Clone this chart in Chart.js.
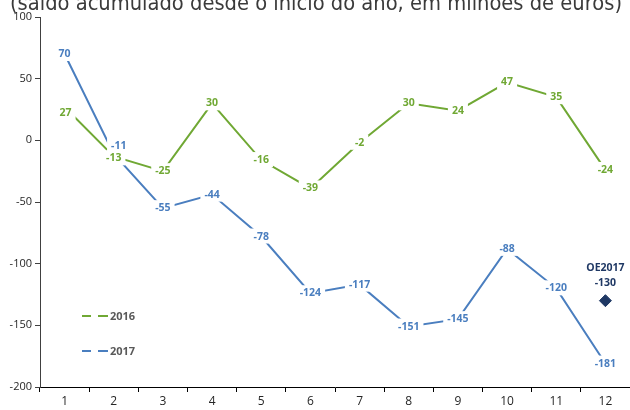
<!DOCTYPE html>
<html>
<head>
<meta charset="utf-8">
<script src="https://cdn.jsdelivr.net/npm/chart.js@4/dist/chart.umd.min.js"></script>
<style>
  html, body { margin: 0; padding: 0; background: #fff; }
  #wrap { width: 630px; height: 410px; position: relative; }
</style>
</head>
<body>
<div id="wrap"><canvas id="chart"></canvas></div>
<script>
// dados
const months = ['1', '2', '3', '4', '5', '6', '7', '8', '9', '10', '11', '12'];
const values2016 = [27, -13, -25, 30, -16, -39, -2, 30, 24, 47, 35, -24];
const values2017 = [70, -11, -55, -44, -78, -124, -117, -151, -145, -88, -120, -181];
const oeLabel = 'OE2017';
const oeValue = -130;
const seriesNames = ['2016', '2017'];
const titleText = '(saldo acumulado desde o início do ano, em milhões de euros)';

const green = '#70a834';
const blue = '#4a7ebf';
const navy = '#1f3864';

const oeData = months.map((m, i) => i === months.length - 1 ? oeValue : null);

// pequenos ajustes manuais de posição das etiquetas (série, índice) -> [dx, dy]
const labelNudge = { '0-0': [1, 6], '0-1': [0, 2], '1-1': [5, -8] };

// etiquetas de dados com fundo branco (cortam a linha como no Excel)
const labelPlugin = {
  id: 'pointLabels',
  afterDatasetsDraw(chart) {
    const ctx = chart.ctx;
    ctx.save();
    ctx.font = "bold 10.5px 'Open Sans', sans-serif";
    ctx.textAlign = 'center';
    ctx.textBaseline = 'middle';
    [0, 1].forEach(di => {
      const meta = chart.getDatasetMeta(di);
      const ds = chart.data.datasets[di];
      meta.data.forEach((pt, i) => {
        const txt = String(ds.data[i]);
        const [dx, dy] = labelNudge[di + '-' + i] || [0, 0];
        const x = pt.x + dx, y = pt.y + dy;
        const w = ctx.measureText(txt).width + 8;
        ctx.fillStyle = '#fff';
        ctx.fillRect(x - w / 2, y - 8, w, 15);
        ctx.fillStyle = ds.borderColor;
        ctx.fillText(txt, x, y);
      });
    });
    // OE2017
    const oe = chart.getDatasetMeta(2).data[months.length - 1];
    ctx.fillStyle = navy;
    ctx.fillText(oeLabel, oe.x, oe.y - 33);
    ctx.fillText(String(oeValue), oe.x, oe.y - 18);
    ctx.restore();
  }
};

// legenda dentro da área do gráfico
const legendPlugin = {
  id: 'innerLegend',
  afterDraw(chart) {
    const ctx = chart.ctx;
    const colors = [green, blue];
    const ys = [316, 351];
    ctx.save();
    ctx.lineWidth = 2;
    ctx.font = "bold 11px 'Open Sans', sans-serif";
    ctx.textBaseline = 'middle';
    seriesNames.forEach((name, i) => {
      ctx.strokeStyle = colors[i];
      ctx.beginPath();
      ctx.moveTo(82, ys[i]); ctx.lineTo(91, ys[i]);
      ctx.moveTo(98, ys[i]); ctx.lineTo(108, ys[i]);
      ctx.stroke();
      ctx.fillStyle = '#595959';
      ctx.fillText(name, 110, ys[i] + 0.5);
    });
    ctx.restore();
  }
};

// título cortado no topo
const titlePlugin = {
  id: 'cutTitle',
  afterDraw(chart) {
    const ctx = chart.ctx;
    ctx.save();
    ctx.font = "21px 'DejaVu Sans', sans-serif";
    ctx.fillStyle = '#3a3a3a';
    ctx.textAlign = 'center';
    ctx.textBaseline = 'alphabetic';
    ctx.fillText(titleText, 316, 10, 612);
    ctx.restore();
  }
};

new Chart(document.getElementById('chart'), {
  type: 'line',
  data: {
    labels: months,
    datasets: [
      {
        label: seriesNames[0],
        data: values2016,
        borderColor: green,
        borderWidth: 2,
        pointRadius: 0,
        tension: 0
      },
      {
        label: seriesNames[1],
        data: values2017,
        borderColor: blue,
        borderWidth: 2,
        pointRadius: 0,
        tension: 0
      },
      {
        label: oeLabel,
        data: oeData,
        showLine: false,
        pointStyle: 'rectRot',
        pointRadius: 6,
        pointBackgroundColor: navy,
        pointBorderColor: navy
      }
    ]
  },
  options: {
    responsive: true,
    maintainAspectRatio: false,
    animation: false,
    layout: { autoPadding: false, padding: { top: 17, right: 0, left: 0, bottom: 0 } },
    plugins: {
      legend: { display: false },
      tooltip: { enabled: false },
      title: { display: false }
    },
    scales: {
      x: {
        offset: true,
        grid: {
          offset: true,
          drawOnChartArea: false,
          drawTicks: true,
          tickLength: 5,
          color: '#000'
        },
        border: { color: '#000', width: 1 },
        ticks: {
          color: '#262626',
          font: { family: "'Open Sans', sans-serif", size: 12 },
          padding: 2,
          maxRotation: 0
        },
        afterFit(scale) {
          scale.height = 23;
          scale.paddingLeft = 0;
          scale.paddingRight = 0;
        }
      },
      y: {
        min: -200,
        max: 100,
        grid: {
          drawOnChartArea: false,
          drawTicks: true,
          tickLength: 5,
          color: '#404040'
        },
        border: { color: '#404040', width: 1 },
        ticks: {
          stepSize: 50,
          color: '#262626',
          font: { family: "'Open Sans', sans-serif", size: 11 },
          padding: 3
        },
        afterFit(scale) {
          scale.width = 40;
          scale.paddingTop = 0;
          scale.paddingBottom = 0;
        }
      }
    }
  },
  plugins: [labelPlugin, legendPlugin, titlePlugin]
});
</script>
</body>
</html>
